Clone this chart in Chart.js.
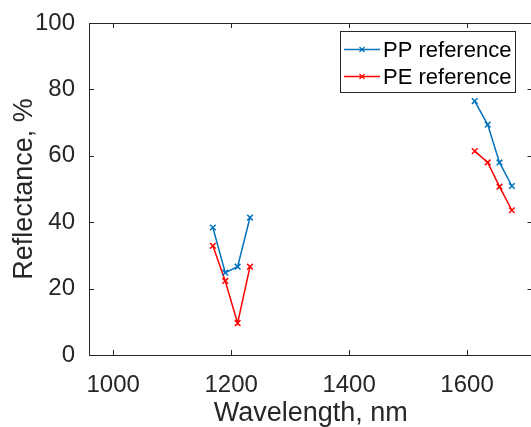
<!DOCTYPE html>
<html>
<head>
<meta charset="utf-8">
<script src="https://cdn.jsdelivr.net/npm/chart.js@4"></script>
<style>
  html, body { margin: 0; padding: 0; background: #fff; overflow: hidden; }
  canvas { display: block; }
</style>
</head>
<body>
<canvas id="myChart" width="538" height="427"></canvas>
<script>
// wavelengths (nm) of the two measured bands
const band1Wavelength = [1169, 1190, 1211, 1232];
const band2Wavelength = [1613, 1635, 1655, 1676];

// reflectance, %
const ppBand1 = [38.4, 24.8, 26.6, 41.4];
const ppBand2 = [76.5, 69.4, 58.0, 50.9];
const peBand1 = [32.9, 22.3, 9.6, 26.6];
const peBand2 = [61.4, 58.0, 50.7, 43.6];

const xTicks = [1000, 1200, 1400, 1600];
const yTicks = [0, 20, 40, 60, 80, 100];

const axisColor = "#262626";
const fontFamily = "'Liberation Sans', Arial, sans-serif";

// join the two bands with a gap so the line breaks between them
function points(b1, b2) {
  const pts = band1Wavelength.map((x, i) => ({ x: x, y: b1[i] }));
  pts.push({ x: 1420, y: null });
  band2Wavelength.forEach((x, i) => pts.push({ x: x, y: b2[i] }));
  return pts;
}

// inward ticks on all four sides + top/right box edges
const boxTicks = {
  id: "boxTicks",
  afterDraw(chart) {
    const { ctx, chartArea: a, scales } = chart;
    const len = 5;
    ctx.save();
    ctx.strokeStyle = axisColor;
    ctx.lineWidth = 1;
    ctx.beginPath();
    ctx.moveTo(a.left, a.top + 0.5);
    ctx.lineTo(a.right, a.top + 0.5);
    ctx.moveTo(a.right - 0.5, a.top);
    ctx.lineTo(a.right - 0.5, a.bottom);
    xTicks.forEach((v) => {
      const px = Math.round(scales.x.getPixelForValue(v)) + 0.5;
      ctx.moveTo(px, a.bottom);
      ctx.lineTo(px, a.bottom - len);
      ctx.moveTo(px, a.top);
      ctx.lineTo(px, a.top + len);
    });
    yTicks.forEach((v) => {
      const py = Math.round(scales.y.getPixelForValue(v)) + 0.5;
      ctx.moveTo(a.left, py);
      ctx.lineTo(a.left + len, py);
      ctx.moveTo(a.right, py);
      ctx.lineTo(a.right - len, py);
    });
    ctx.stroke();
    ctx.restore();
  },
};

// boxed legend in the upper right, like the original
const boxLegend = {
  id: "boxLegend",
  afterDraw(chart) {
    const ctx = chart.ctx;
    const box = { left: 340.5, top: 31.5, right: 515.5, bottom: 92.5 };
    const rows = [49.5, 76.5];
    ctx.save();
    ctx.fillStyle = "#fff";
    ctx.fillRect(box.left, box.top, box.right - box.left, box.bottom - box.top);
    ctx.strokeStyle = axisColor;
    ctx.lineWidth = 1;
    ctx.strokeRect(box.left, box.top, box.right - box.left, box.bottom - box.top);
    ctx.font = "22px " + fontFamily;
    ctx.textBaseline = "middle";
    chart.data.datasets.forEach((ds, i) => {
      const y = rows[i];
      ctx.strokeStyle = ds.borderColor;
      ctx.lineWidth = 1.5;
      ctx.beginPath();
      ctx.moveTo(344, y);
      ctx.lineTo(380, y);
      ctx.stroke();
      ctx.lineWidth = 1.2;
      ctx.beginPath();
      ctx.moveTo(359.5, y - 2.5);
      ctx.lineTo(364.5, y + 2.5);
      ctx.moveTo(364.5, y - 2.5);
      ctx.lineTo(359.5, y + 2.5);
      ctx.stroke();
      ctx.fillStyle = "#000";
      ctx.fillText(ds.label, 383, y + 1);
    });
    ctx.restore();
  },
};

const ctx = document.getElementById("myChart").getContext("2d");

new Chart(ctx, {
  type: "line",
  data: {
    datasets: [
      {
        label: "PP reference",
        data: points(ppBand1, ppBand2),
        borderColor: "#0072BD",
        backgroundColor: "#0072BD",
        borderWidth: 1.5,
        pointStyle: "crossRot",
        pointRadius: 4,
        pointBorderWidth: 1.5,
        tension: 0,
        spanGaps: false,
      },
      {
        label: "PE reference",
        data: points(peBand1, peBand2),
        borderColor: "#FF0000",
        backgroundColor: "#FF0000",
        borderWidth: 1.5,
        pointStyle: "crossRot",
        pointRadius: 4,
        pointBorderWidth: 1.5,
        tension: 0,
        spanGaps: false,
      },
    ],
  },
  options: {
    responsive: false,
    animation: false,
    devicePixelRatio: 1,
    layout: { padding: { top: 23, right: 0, left: 0, bottom: 0 } },
    plugins: {
      legend: { display: false },
      tooltip: { enabled: false },
    },
    scales: {
      x: {
        type: "linear",
        min: 959,
        max: 1711,
        afterFit: (s) => { s.height = 72; },
        afterBuildTicks: (s) => { s.ticks = xTicks.map((v) => ({ value: v })); },
        grid: { display: false },
        border: { display: true, color: axisColor, width: 1 },
        ticks: {
          color: axisColor,
          font: { family: fontFamily, size: 24 },
          padding: 8,
          maxRotation: 0,
          callback: (v) => String(v),
        },
        title: {
          display: true,
          text: "Wavelength, nm",
          color: axisColor,
          font: { family: fontFamily, size: 27, lineHeight: 1 },
          padding: { top: 0, bottom: 0 },
        },
      },
      y: {
        min: 0,
        max: 100,
        afterFit: (s) => { s.width = 89; },
        afterBuildTicks: (s) => { s.ticks = yTicks.map((v) => ({ value: v })); },
        grid: { display: false },
        border: { display: true, color: axisColor, width: 1 },
        ticks: {
          color: axisColor,
          font: { family: fontFamily, size: 24 },
          padding: 6,
        },
        title: {
          display: true,
          text: "Reflectance, %",
          color: axisColor,
          font: { family: fontFamily, size: 27, lineHeight: 1 },
          padding: { top: 11, bottom: 0 },
        },
      },
    },
  },
  plugins: [boxTicks, boxLegend],
});
</script>
</body>
</html>
